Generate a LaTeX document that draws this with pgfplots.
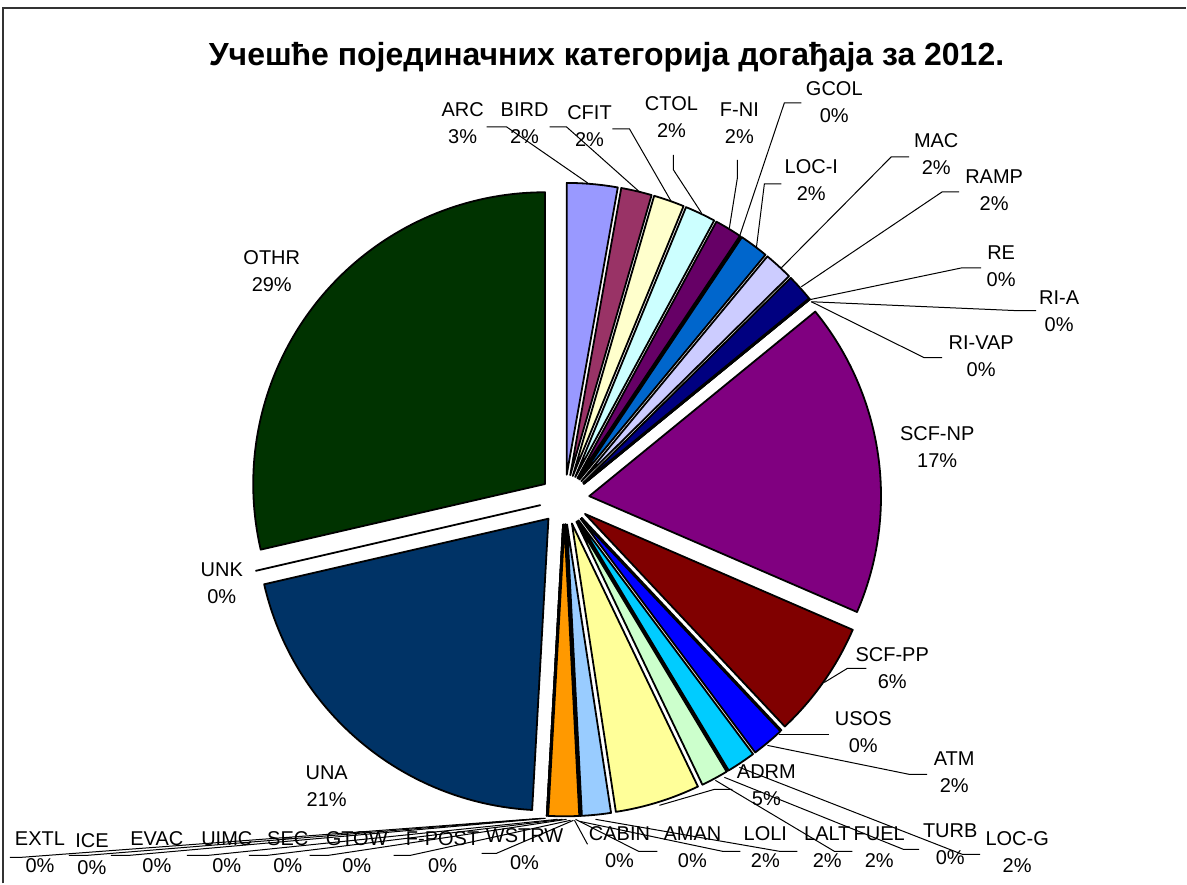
\documentclass[border=0pt]{standalone}
\usepackage{pgfplots}
\pgfplotsset{compat=1.18}
\usepackage{pgfplotstable}
\usetikzlibrary{calc}
\usepackage{fontspec}
\setmainfont{Liberation Sans}

\pgfplotstableread[col sep=comma]{
name,value,color
ARC,2.8,9999FF
BIRD,1.7,993366
CFIT,1.7,FFFFCC
CTOL,1.7,CCFFFF
F-NI,1.5,660066
GCOL,0,FF8080
LOC-I,1.6,0066CC
MAC,1.6,CCCCFF
RAMP,1.5,000080
RE,0,FF00FF
RI-A,0,FFFF00
RI-VAP,0,00FFFF
SCF-NP,17.4,800080
SCF-PP,6.49,800000
USOS,0,008080
ATM,1.8,0000FF
LOC-G,1.6,00CCFF
TURB,0,CCFFFF
FUEL,1.5,CCFFCC
ADRM,4.7,FFFF99
LALT,1.6,99CCFF
AMAN,0,FF99CC
CABIN,0,CC99FF
WSTRW,0,FFCC99
F-POST,0,3366FF
GTOW,0,33CCCC
SEC,0,99CC00
UIMC,0,FFCC00
LOLI,1.7,FF9900
EVAC,0,FF6600
ICE,0,666699
EXTL,0,969696
UNA,20.5,003366
UNK,0,339966
OTHR,28.61,003300
}\pietable

\pgfplotstablegetrowsof{\pietable}%
\pgfmathtruncatemacro{\pienrows}{\pgfplotsretval-1}%
\def\piecum{0}%
\pgfplotsforeachungrouped \i in {0,...,\pienrows}{%
  \pgfplotstablegetelem{\i}{value}\of\pietable
  \edef\pieV{\pgfplotsretval}%
  \pgfplotstablegetelem{\i}{color}\of\pietable
  \edef\pieC{\pgfplotsretval}%
  \edef\pietmp{\noexpand\definecolor{pc\i}{HTML}{\pieC}}\pietmp
  \pgfmathsetmacro{\pieS}{90-3.6*\piecum}%
  \pgfmathsetmacro{\pieE}{90-3.6*(\piecum+\pieV)}%
  \pgfmathsetmacro{\pieM}{(\pieS+\pieE)/2}%
  \expandafter\xdef\csname ps\i\endcsname{\pieS}%
  \expandafter\xdef\csname pe\i\endcsname{\pieE}%
  \expandafter\xdef\csname pm\i\endcsname{\pieM}%
  \pgfmathsetmacro{\piecum}{\piecum+\pieV}%
}%

\newcommand\lab{\fontsize{10}{13.5}\selectfont}
\newcommand\lbl[3]{\node[align=center,inner sep=0pt,font=\lab] at (axis cs:#1) {#2\\#3};}

\begin{document}%
\begin{tikzpicture}
\begin{axis}[hide axis, scale only axis, width=593.5pt, height=442pt,
  xmin=0, xmax=1187, ymin=-884, ymax=0, clip=false]
\path (axis cs:0,-884) rectangle (axis cs:1187,0);
% frame
\draw[line width=1pt, black!80] (axis cs:3,-884) -- (axis cs:3,-8) -- (axis cs:1187,-8);
% title
\node[font=\fontsize{16}{19}\selectfont\bfseries] at (axis cs:607,-57) {Учешће појединачних категорија догађаја за 2012.};
% slices
\pgfplotsinvokeforeach{0,...,34}{
  \draw[fill=pc#1, draw=black, line width=0.9pt, line join=round]
    ($(axis cs:565,-500)+(\csname pm#1\endcsname:12.5pt)$) -- ++(\csname ps#1\endcsname:146pt)
    arc[start angle=\csname ps#1\endcsname, end angle=\csname pe#1\endcsname, radius=146pt] -- cycle;
}
% leader lines
\begin{scope}[line width=0.5pt]
\draw (axis cs:588,-183) -- (axis cs:507,-127) -- (axis cs:487,-127);
\draw (axis cs:640,-192) -- (axis cs:567,-127) -- (axis cs:550,-127);
\draw (axis cs:672,-202) -- (axis cs:630,-129) -- (axis cs:613,-129);
\draw (axis cs:702,-213) -- (axis cs:674,-170) -- (axis cs:674,-155);
\draw (axis cs:730,-228) -- (axis cs:738,-178) -- (axis cs:738,-160);
\draw (axis cs:740,-237) -- (axis cs:785,-103) -- (axis cs:802,-103);
\draw (axis cs:757,-248) -- (axis cs:765,-184) -- (axis cs:782,-184);
\draw (axis cs:782,-268) -- (axis cs:892,-157) -- (axis cs:910,-157);
\draw (axis cs:802,-287) -- (axis cs:943,-192) -- (axis cs:960,-192);
\draw (axis cs:810,-300) -- (axis cs:963,-268) -- (axis cs:982,-268);
\draw (axis cs:812,-302) -- (axis cs:1020,-311) -- (axis cs:1037,-311);
\draw (axis cs:812,-302) -- (axis cs:925,-358) -- (axis cs:943,-358);
\draw (axis cs:825,-683) -- (axis cs:848,-669) -- (axis cs:867,-669);
\draw (axis cs:780,-735) -- (axis cs:830,-735);
\draw (axis cs:768,-746) -- (axis cs:910,-775) -- (axis cs:928,-775);
\draw (axis cs:660,-806) -- (axis cs:715,-790) -- (axis cs:733,-790);
\draw (axis cs:740,-768) -- (axis cs:963,-855) -- (axis cs:981,-855);
\draw (axis cs:725,-778) -- (axis cs:904,-850) -- (axis cs:920,-850);
\draw (axis cs:716,-781) -- (axis cs:835,-852) -- (axis cs:853,-852);
\draw (axis cs:596,-820) -- (axis cs:780,-852) -- (axis cs:798,-852);
\draw (axis cs:580,-822) -- (axis cs:723,-852) -- (axis cs:741,-852);
\draw (axis cs:576,-820) -- (axis cs:639,-852) -- (axis cs:658,-852);
\draw (axis cs:575,-821) -- (axis cs:588,-845);
\draw (axis cs:574,-821) -- (axis cs:497,-854) -- (axis cs:482,-854);
\draw (axis cs:571,-821) -- (axis cs:411,-856) -- (axis cs:394,-856);
\draw (axis cs:567,-820) -- (axis cs:329,-856) -- (axis cs:310,-856);
\draw (axis cs:563,-820) -- (axis cs:268,-856) -- (axis cs:249,-856);
\draw (axis cs:558,-820) -- (axis cs:209,-856) -- (axis cs:187,-856);
\draw (axis cs:546,-819) -- (axis cs:130,-856) -- (axis cs:111,-856);
\draw (axis cs:544,-819) -- (axis cs:88,-856) -- (axis cs:69,-856);
\draw (axis cs:542,-819) -- (axis cs:22,-858) -- (axis cs:10,-858);
\end{scope}
% labels
\lbl{463,-123}{ARC}{3\%}
\lbl{525,-123}{BIRD}{2\%}
\lbl{590,-126}{CFIT}{2\%}
\lbl{672,-117}{CTOL}{2\%}
\lbl{740,-123}{F-NI}{2\%}
\lbl{835,-102}{GCOL}{0\%}
\lbl{812,-180}{LOC-I}{2\%}
\lbl{937,-154}{MAC}{2\%}
\lbl{995,-190}{RAMP}{2\%}
\lbl{1002,-266}{RE}{0\%}
\lbl{1060,-311}{RI-A}{0\%}
\lbl{982,-357}{RI-VAP}{0\%}
\lbl{938,-447}{SCF-NP}{17\%}
\lbl{893,-669}{SCF-PP}{6\%}
\lbl{864,-733}{USOS}{0\%}
\lbl{955,-773}{ATM}{2\%}
\lbl{767,-786}{ADRM}{5\%}
\lbl{951,-845}{TURB}{0\%}
\lbl{1018,-853}{LOC-G}{2\%}
\lbl{880,-848}{FUEL}{2\%}
\lbl{828,-848}{LALT}{2\%}
\lbl{766,-848}{LOLI}{2\%}
\lbl{693,-848}{AMAN}{0\%}
\lbl{620,-848}{CABIN}{0\%}
\lbl{525,-850}{WSTRW}{0\%}
\lbl{443,-853}{F-POST}{0\%}
\lbl{357,-853}{GTOW}{0\%}
\lbl{288,-853}{SEC}{0\%}
\lbl{227,-853}{UIMC}{0\%}
\lbl{157,-853}{EVAC}{0\%}
\lbl{92,-855}{ICE}{0\%}
\lbl{40,-853}{EXTL}{0\%}
\lbl{327,-787}{UNA}{21\%}
\lbl{222,-584}{UNK}{0\%}
\lbl{272,-271}{OTHR}{29\%}
\end{axis}
\end{tikzpicture}%
\end{document}
